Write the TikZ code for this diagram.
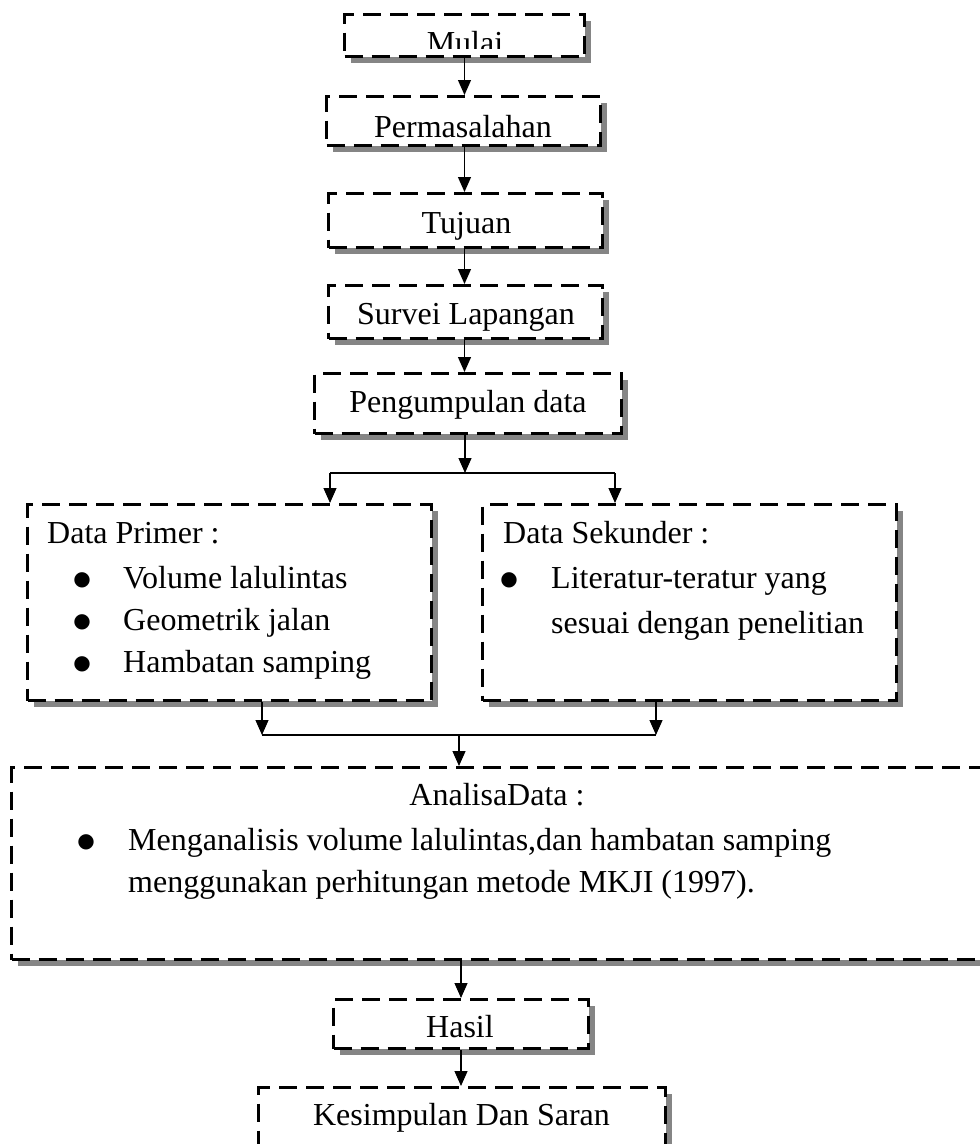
\documentclass[tikz,border=0pt]{standalone}
\usepackage{fontspec}
\setmainfont{Liberation Serif}
\newfontfamily\simbol{DejaVu Sans}
\usetikzlibrary{arrows.meta,shadows}

\tikzset{
    kotak/.style={draw, line width=3pt, dash pattern=on 18pt off 9pt, fill=white, inner sep=0pt,
        drop shadow={shadow xshift=6pt, shadow yshift=-6pt, fill=black!48, opacity=1}},
    tulisan/.style={font=\fontsize{32}{38}\selectfont, inner sep=0pt},
    titik/.style={font=\simbol\fontsize{20}{24}\selectfont, inner sep=0pt, anchor=base},
    panah/.style={line width=1.2pt, -{Triangle[length=15pt,width=13pt]}},
    garis/.style={line width=1.2pt}
}

\begin{document}
\begin{tikzpicture}[x=1pt,y=-1pt]

        \useasboundingbox (0,0) rectangle (980,1144);
        \clip (0,0) rectangle (980,1144);

        \node[kotak, minimum width=240pt, minimum height=42pt] (mulai) at (464.5,35.5) {};
        \node[kotak, minimum width=274pt, minimum height=49pt] (masalah) at (463.5,121) {};
        \node[kotak, minimum width=274pt, minimum height=54pt] (tujuan) at (465.5,220.5) {};
        \node[kotak, minimum width=274pt, minimum height=53pt] (survei) at (465.5,312) {};
        \node[kotak, minimum width=307pt, minimum height=60pt] (kumpul) at (468,403.5) {};
        \node[kotak, minimum width=404pt, minimum height=196pt] (primer) at (229.5,602.5) {};
        \node[kotak, minimum width=414pt, minimum height=196pt] (sekunder) at (689.5,602.5) {};
        \node[kotak, minimum width=972pt, minimum height=192pt] (analisa) at (497.5,863.5) {};
        \node[kotak, minimum width=255pt, minimum height=49pt] (hasil) at (461,1024) {};
        \node[kotak, minimum width=407pt, minimum height=61pt] (saran) at (462,1118) {};

        \begin{scope}
            \clip (343,16) rectangle (586,48);
            \node[tulisan, anchor=base] (mulai-t) at (465,53) {Mulai};
        \end{scope}
        \node[tulisan, anchor=base] (masalah-t) at (463,137) {Permasalahan};
        \node[tulisan, anchor=base] (tujuan-t) at (466.5,233) {Tujuan};
        \node[tulisan, anchor=base] (survei-t) at (466,324) {Survei Lapangan};
        \node[tulisan, anchor=base] (kumpul-t) at (468,412) {Pengumpulan data};
        \node[tulisan, anchor=base] (hasil-t) at (460,1037) {Hasil};
        \node[tulisan, anchor=base] (saran-t) at (461.5,1125) {Kesimpulan Dan Saran};

        \node[tulisan, anchor=base west] (primer-t) at (47,543) {Data Primer :};
        \node[titik] (primer-b1) at (82,585) {●};
        \node[titik] (primer-b2) at (82,627) {●};
        \node[titik] (primer-b3) at (82,669) {●};
        \node[tulisan, anchor=base west] (primer-1) at (123,588) {Volume lalulintas};
        \node[tulisan, anchor=base west] (primer-2) at (123,630) {Geometrik jalan};
        \node[tulisan, anchor=base west] (primer-3) at (123,672) {Hambatan samping};

        \node[tulisan, anchor=base west] (sekunder-t) at (503,543) {Data Sekunder :};
        \node[titik] (sekunder-b1) at (509,585) {●};
        \node[tulisan, anchor=base west] (sekunder-1) at (551,588) {Literatur-teratur yang};
        \node[tulisan, anchor=base west] (sekunder-2) at (551,633) {sesuai dengan penelitian};

        \node[tulisan, anchor=base] (analisa-t) at (497,805) {AnalisaData :};
        \node[titik] (analisa-b1) at (86,847) {●};
        \node[tulisan, anchor=base west] (analisa-1) at (128,850) {Menganalisis volume lalulintas,dan hambatan samping};
        \node[tulisan, anchor=base west] (analisa-2) at (128,892) {menggunakan perhitungan metode MKJI (1997).};

        \coordinate (cabang) at (465,473);
        \coordinate (cabang-kiri) at (330,473);
        \coordinate (cabang-kanan) at (615,473);
        \coordinate (gabung) at (459,735);
        \coordinate (gabung-kiri) at (262,735);
        \coordinate (gabung-kanan) at (656,735);

        \draw[panah] (mulai.south) -- (mulai.south |- masalah.north);
        \draw[panah] (mulai.south |- masalah.south) -- (mulai.south |- tujuan.north);
        \draw[panah] (mulai.south |- tujuan.south) -- (mulai.south |- survei.north);
        \draw[panah] (mulai.south |- survei.south) -- (mulai.south |- kumpul.north);
        \draw[panah] (cabang |- kumpul.south) -- (cabang);
        \draw[garis] (cabang-kiri) -- (cabang-kanan);
        \draw[panah] (cabang-kiri) -- (cabang-kiri |- primer.north);
        \draw[panah] (cabang-kanan) -- (cabang-kanan |- sekunder.north);
        \draw[panah] (gabung-kiri |- primer.south) -- (gabung-kiri);
        \draw[panah] (gabung-kanan |- sekunder.south) -- (gabung-kanan);
        \draw[garis] (gabung-kiri) -- (gabung-kanan);
        \draw[panah] (gabung) -- (gabung |- analisa.north);
        \draw[panah] (hasil |- analisa.south) -- (hasil.north);
        \draw[panah] (hasil.south) -- (hasil.south |- saran.north);

\end{tikzpicture}
\end{document}
